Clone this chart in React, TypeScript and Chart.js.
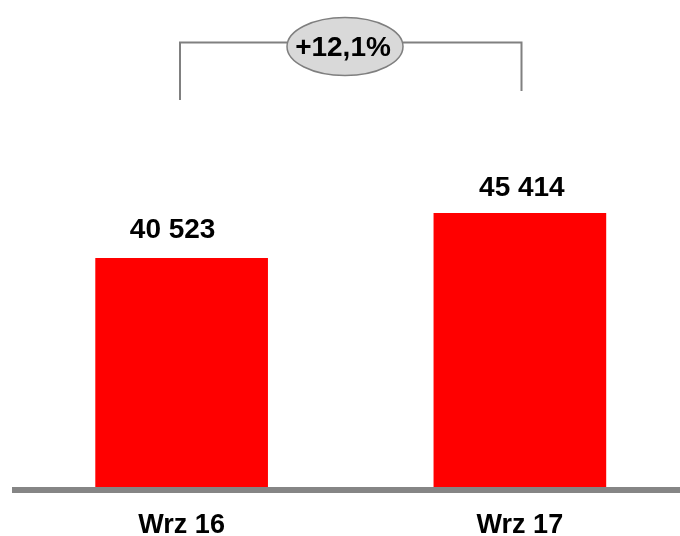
import React, { useEffect, useRef } from "react";
import { Chart, registerables } from "chart.js";

Chart.register(...registerables);

const categories = ["Wrz 16", "Wrz 17"];
const values = [40523, 45414];
const valueLabels = ["40 523", "45 414"];
const changeLabel = "+12,1%";

const FONT = "Arial, 'Liberation Sans', sans-serif";

const overlay = {
  id: "overlay",
  afterDatasetsDraw(chart: any) {
    const ctx = chart.ctx;
    const area = chart.chartArea;
    const meta = chart.getDatasetMeta(0);
    const bars = meta.data;
    ctx.save();
    // baseline
    ctx.fillStyle = "#858585";
    ctx.fillRect(12, area.bottom, 680 - 12, 6);

    // value labels
    const dx = [-9, 2];
    const dy = [20, 17];
    ctx.fillStyle = "#000";
    ctx.font = `bold 28px ${FONT}`;
    ctx.textAlign = "center";
    ctx.textBaseline = "alphabetic";
    bars.forEach((b: any, i: number) => {
      ctx.fillText(valueLabels[i], b.x + dx[i], b.y - dy[i]);
    });

    // category labels
    ctx.font = `bold 27px ${FONT}`;
    bars.forEach((b: any, i: number) => {
      ctx.fillText(categories[i], b.x, 533);
    });

    // bracket
    const lx = 180;
    const rx = 521.5;
    const ty = 42.5;
    const cx = 345;
    const cy = 46.5;
    const erx = 58;
    const ery = 29;
    ctx.strokeStyle = "#808080";
    ctx.lineWidth = 2;
    ctx.beginPath();
    ctx.moveTo(lx, 100);
    ctx.lineTo(lx, ty);
    ctx.lineTo(cx - erx, ty);
    ctx.moveTo(cx + erx, ty);
    ctx.lineTo(rx, ty);
    ctx.lineTo(rx, 91);
    ctx.stroke();

    ctx.beginPath();
    ctx.ellipse(cx, cy, erx, ery, 0, 0, Math.PI * 2);
    ctx.fillStyle = "#d9d9d9";
    ctx.fill();
    ctx.lineWidth = 1.5;
    ctx.strokeStyle = "#7f7f7f";
    ctx.stroke();

    ctx.fillStyle = "#000";
    ctx.font = `bold 28px ${FONT}`;
    ctx.textAlign = "center";
    ctx.fillText(changeLabel, cx - 2, 55.5);
    ctx.restore();
  },
};

export default function App() {
  const ref = useRef<HTMLCanvasElement | null>(null);
  useEffect(() => {
    document.body.style.margin = "0";
    const canvas = ref.current!;
    const chart = new Chart(canvas, {
      type: "bar",
      data: {
        labels: categories,
        datasets: [
          {
            data: values,
            backgroundColor: "#ff0000",
            borderWidth: 0,
            barThickness: 172,
          },
        ],
      },
      options: {
        animation: false,
        responsive: false,
        maintainAspectRatio: false,
        layout: { padding: { left: 12.5, right: 0, top: 0, bottom: 49 } },
        plugins: { legend: { display: false }, tooltip: { enabled: false } },
        scales: {
          x: { display: false },
          y: { display: false, min: 15666, max: 68597 },
        },
      },
      plugins: [overlay],
    });
    return () => chart.destroy();
  }, []);
  return (
    <div style={{ width: 680, height: 536, overflow: "hidden" }}>
      <canvas ref={ref} width={689} height={536} style={{ display: "block" }} />
    </div>
  );
}
